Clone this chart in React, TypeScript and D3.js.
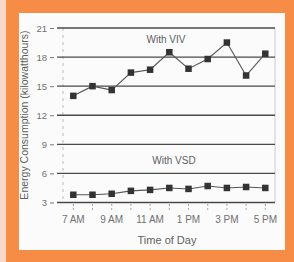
import React, { useEffect, useRef } from 'react';
import * as d3 from 'd3';

const hours = [7, 8, 9, 10, 11, 12, 13, 14, 15, 16, 17];
const vivValues = [14.0, 15.0, 14.6, 16.4, 16.7, 18.5, 16.8, 17.8, 19.5, 16.1, 18.35];
const vsdValues = [3.8, 3.8, 3.9, 4.2, 4.3, 4.5, 4.4, 4.7, 4.5, 4.6, 4.5];
const yTicks = [3, 6, 9, 12, 15, 18, 21];
const xLabels = ['7 AM', '9 AM', '11 AM', '1 PM', '3 PM', '5 PM'];
const xLabelHours = [7, 9, 11, 13, 15, 17];

const App = () => {
  const ref = useRef<SVGSVGElement>(null);

  useEffect(() => {
    const svg = d3.select(ref.current);
    svg.selectAll('*').remove();

    // frame
    svg.append('rect').attr('width', 294).attr('height', 262).attr('fill', '#f68c45');
    svg.append('rect').attr('width', 6).attr('height', 262).attr('fill', '#f8d8c9');
    svg.append('rect').attr('x', 19).attr('y', 13).attr('width', 266).attr('height', 237).attr('fill', '#fbfbfb');

    const x = d3.scaleLinear().domain([7, 17]).range([73.3, 265.3]);
    const y = d3.scaleLinear().domain([3, 21]).range([202.5, 28]);

    const g = svg.append('g').attr('font-family', 'Liberation Sans, Arial, sans-serif');

    // frame lines
    g.append('line').attr('x1', 63).attr('x2', 63).attr('y1', y(21)).attr('y2', y(3))
      .attr('stroke', '#bbb').attr('stroke-width', 1).attr('stroke-dasharray', '3,4');
    g.append('line').attr('x1', 275).attr('x2', 275).attr('y1', y(21)).attr('y2', y(3))
      .attr('stroke', '#ccc').attr('stroke-width', 1);

    // gridlines
    g.selectAll('.grid').data(yTicks).enter().append('line')
      .attr('x1', 57).attr('x2', 275)
      .attr('y1', (d) => y(d)).attr('y2', (d) => y(d))
      .attr('stroke', '#4a4a4a').attr('stroke-width', 1.3);

    // y ticks
    const yAxis = d3.axisLeft(y).tickValues(yTicks).tickSize(4).tickPadding(3);
    const ya = g.append('g').attr('transform', 'translate(54,0)').call(yAxis);
    ya.select('.domain').remove();
    ya.selectAll('line').attr('stroke', '#777');
    ya.selectAll('text').attr('fill', '#707070').attr('font-size', 9.5).attr('font-family', 'Liberation Sans, Arial, sans-serif');

    // x tick marks
    g.selectAll('.xt').data(hours).enter().append('line')
      .attr('x1', (d) => x(d)).attr('x2', (d) => x(d))
      .attr('y1', 204).attr('y2', 210)
      .attr('stroke', '#aaa').attr('stroke-width', 1).attr('stroke-dasharray', '2,2');

    g.selectAll('.xl').data(xLabelHours).enter().append('text')
      .attr('x', (d) => x(d)).attr('y', 223)
      .attr('text-anchor', 'middle').attr('font-size', 10).attr('fill', '#707070')
      .text((d, i) => xLabels[i]);

    g.append('text').attr('x', 167).attr('y', 244).attr('text-anchor', 'middle')
      .attr('font-size', 11).attr('fill', '#606060').text('Time of Day');

    g.append('text').attr('transform', 'translate(28,115) rotate(-90)')
      .attr('text-anchor', 'middle').attr('font-size', 10.5).attr('fill', '#606060')
      .text('Energy Consumption (kilowatthours)');

    g.append('text').attr('x', 166).attr('y', 43).attr('text-anchor', 'middle')
      .attr('font-size', 10).attr('fill', '#606060').text('With VIV');
    g.append('text').attr('x', 174).attr('y', 164).attr('text-anchor', 'middle')
      .attr('font-size', 10).attr('fill', '#606060').text('With VSD');

    const line = d3.line<number>().x((d, i) => x(hours[i])).y((d) => y(d));

    [vivValues, vsdValues].forEach((vals) => {
      g.append('path').datum(vals).attr('d', line).attr('fill', 'none')
        .attr('stroke', '#555').attr('stroke-width', 1.1);
      g.selectAll(null).data(vals).enter().append('rect')
        .attr('x', (d, i) => x(hours[i]) - 3.25).attr('y', (d) => y(d) - 3.25)
        .attr('width', 6.5).attr('height', 6.5).attr('fill', '#333');
    });
  }, []);

  return (
    <svg ref={ref} width={294} height={262} style={{ position: 'absolute', left: 0, top: 0 }}></svg>
  );
};

export default App;
